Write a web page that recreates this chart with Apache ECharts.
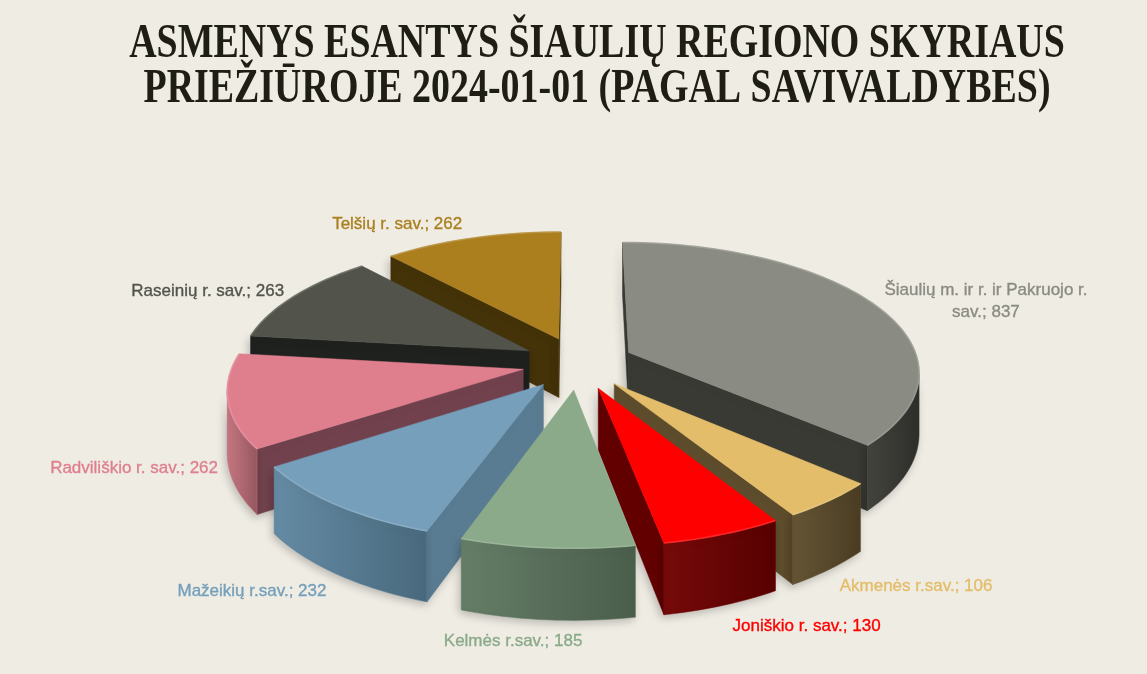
<!DOCTYPE html>
<html>
<head>
<meta charset="utf-8">
<script src="https://cdn.jsdelivr.net/npm/echarts@6/dist/echarts.min.js"></script>
<style>
html,body{margin:0;padding:0;background:#EFECE4;}
#chart{width:1147px;height:674px;}
</style>
</head>
<body>
<div id="chart"></div>
<script>
// ---- data ----
const categories = [
  'Šiaulių m. ir r. ir Pakruojo r. sav.',
  'Akmenės r.sav.',
  'Joniškio r. sav.',
  'Kelmės r.sav.',
  'Mažeikių r.sav.',
  'Radviliškio r. sav.',
  'Raseinių r. sav.',
  'Telšių r. sav.'
];
const values = [837, 106, 130, 185, 232, 262, 263, 262];
const titleLines = ['ASMENYS ESANTYS ŠIAULIŲ REGIONO SKYRIAUS', 'PRIEŽIŪROJE 2024-01-01 (PAGAL SAVIVALDYBES)'];

// ---- styles ----
const topColors   = ['#8A8B82', '#E3BD69', '#FF0000', '#8AAA89', '#759FBA', '#DF7F8E', '#52544C', '#AB7F1E'];
const wallColors  = ['#393A34', '#5E4D2C', '#620000', '#4E644F', '#5A7C92', '#71424D', '#1F211E', '#443209'];
const outerColors = ['#3B3C36', '#5F4E2D', '#700000', '#5F7861', '#5E86A0', '#C3717C', '#2A2C28', '#4A370C'];
const labelColors = ['#8A8B82', '#E3BD69', '#FF0000', '#8AAA89', '#759FBA', '#DF7F8E', '#52544C', '#AB7F1E'];

// ---- projection geometry (layout) ----
const G = {cx: 578, cy: 363, rx: 290, ry: 128, h: 60, d: 7.2, eu: 0.193, ev: 0.206};
const LABEL_FONT = '17px "Liberation Sans", Arial, sans-serif';

const total = values.reduce((a, b) => a + b, 0);
const starts = [];
(function () { let acc = 0; values.forEach(v => { starts.push(acc); acc += v; }); })();
const TAU = Math.PI * 2;

function proj(u, v, z) {
  const s = G.d / (G.d - v);
  return [G.cx + G.rx * u * s, G.cy + (G.ry * v + G.h * z) * s];
}
function area(pts) {
  let a = 0;
  for (let i = 0; i < pts.length; i++) {
    const p = pts[i], q = pts[(i + 1) % pts.length];
    a += p[0] * q[1] - q[0] * p[1];
  }
  return a;
}
function mix(hex, t) {
  const c = hex.replace('#', '');
  const r = parseInt(c.substr(0, 2), 16), g = parseInt(c.substr(2, 2), 16), b = parseInt(c.substr(4, 2), 16);
  const f = x => Math.max(0, Math.min(255, Math.round(t < 0 ? x * (1 + t) : x + (255 - x) * t)));
  return 'rgb(' + f(r) + ',' + f(g) + ',' + f(b) + ')';
}
function wrap(text, max) {
  const words = text.split(' ');
  const lines = []; let cur = '';
  words.forEach(w => {
    if (cur && (cur + ' ' + w).length > max) { lines.push(cur); cur = w; }
    else cur = cur ? cur + ' ' + w : w;
  });
  if (cur) lines.push(cur);
  return lines;
}
const measureCtx = document.createElement('canvas').getContext('2d');
function textWidth(t) { measureCtx.font = LABEL_FONT; return measureCtx.measureText(t).width; }

// depth ordering: back slices first
const mids = values.map((v, i) => (starts[i] + v / 2) / total * TAU);
const order = mids.map((m, i) => i).sort((a, b) => (-Math.cos(mids[a])) - (-Math.cos(mids[b])));
const depthRank = [];
order.forEach((idx, r) => { depthRank[idx] = r; });

function renderItem(params, api) {
  const i = params.dataIndex;
  const val = api.value(0);
  const a0 = starts[i] / total * TAU;
  const a1 = a0 + val / total * TAU;
  const m = (a0 + a1) / 2;
  const au = G.eu * Math.sin(m), av = -G.ev * Math.cos(m);
  const P = (th, z) => proj(au + Math.sin(th), av - Math.cos(th), z);
  const A = z => proj(au, av, z);
  const n = Math.max(8, Math.ceil((a1 - a0) / (Math.PI / 120)));
  const ths = [];
  for (let k = 0; k <= n; k++) ths.push(a0 + (a1 - a0) * k / n);

  const top = [A(0)].concat(ths.map(t => P(t, 0)));
  const sTop = Math.sign(area(top));
  const base = depthRank[i] * 10;
  const children = [];
  const shadow = {shadowBlur: 8, shadowColor: 'rgba(0,0,0,0.22)', shadowOffsetX: -2, shadowOffsetY: 3};

  // radial walls
  const w0 = [P(a0, 0), A(0), A(1), P(a0, 1)];
  const w1 = [A(0), P(a1, 0), P(a1, 1), A(1)];
  [w0, w1].forEach(w => {
    if (Math.sign(area(w)) === sTop) {
      children.push({type: 'polygon', z2: base + 1, shape: {points: w},
        style: Object.assign({fill: wallColors[i], stroke: wallColors[i], lineWidth: 0.5}, shadow)});
    }
  });
  // outer curved wall
  let run = [];
  const flush = () => {
    if (run.length > 1) {
      const tp = run.map(t => P(t, 0));
      const bp = run.map(t => P(t, 1)).reverse();
      children.push({type: 'polygon', z2: base + 2, shape: {points: tp.concat(bp)},
        style: Object.assign({
          fill: new echarts.graphic.LinearGradient(0, 0, 1, 0, [
            {offset: 0, color: mix(outerColors[i], 0.04)},
            {offset: 1, color: mix(outerColors[i], -0.22)}
          ]),
          stroke: outerColors[i], lineWidth: 0.5
        }, shadow)});
    }
    run = [];
  };
  for (let k = 0; k < n; k++) {
    const q = [P(ths[k + 1], 0), P(ths[k], 0), P(ths[k], 1), P(ths[k + 1], 1)];
    if (Math.sign(area(q)) === sTop) {
      if (!run.length) run.push(ths[k]);
      run.push(ths[k + 1]);
    } else flush();
  }
  flush();
  // top face
  children.push({type: 'polygon', z2: base + 3, shape: {points: top},
    style: {fill: topColors[i], stroke: topColors[i], lineWidth: 0.5}});
  // rim highlight
  children.push({type: 'polyline', z2: base + 4, shape: {points: ths.map(t => P(t, 0))},
    style: {stroke: mix(topColors[i], 0.18), lineWidth: 1.6, fill: null, opacity: 0.8}});

  // label
  const cm = Math.cos(m);
  const front = cm < 0;
  const anchor = front ? P(m, 1) : P(m, 0);
  const sn = Math.sin(m);
  const lines = wrap(categories[i] + '; ' + val, 32);
  const maxW = Math.max.apply(null, lines.map(textWidth));
  let lx;
  if (Math.abs(sn) < 0.2) lx = anchor[0] - 34;
  else if (sn > 0) lx = anchor[0] + 10 + maxW / 2;
  else lx = anchor[0] - 10 - maxW / 2;
  const ly = front ? anchor[1] - 22 * cm : anchor[1] + 4 - 19 * cm;
  children.push({type: 'text', z2: 500, x: lx, y: ly,
    style: {text: lines.join('\n'), fill: labelColors[i], font: LABEL_FONT,
      align: 'center', verticalAlign: 'middle', lineHeight: 22,
      stroke: labelColors[i], lineWidth: 0.35}});

  return {type: 'group', children: children};
}

const chart = echarts.init(document.getElementById('chart'), null, {renderer: 'canvas'});
chart.setOption({
  backgroundColor: '#EFECE4',
  animation: false,
  graphic: [{
    type: 'text', x: 597, y: 67, scaleX: 0.79, scaleY: 1,
    style: {
      text: titleLines.join('\n'),
      font: 'bold 48px "Liberation Serif", "Times New Roman", serif',
      fill: '#1E1E14', align: 'center', verticalAlign: 'middle', lineHeight: 45
    }
  }],
  series: [{
    type: 'custom',
    coordinateSystem: 'none',
    renderItem: renderItem,
    data: values.map((v, i) => ({name: categories[i], value: [v, i]}))
  }]
});
</script>
</body>
</html>
